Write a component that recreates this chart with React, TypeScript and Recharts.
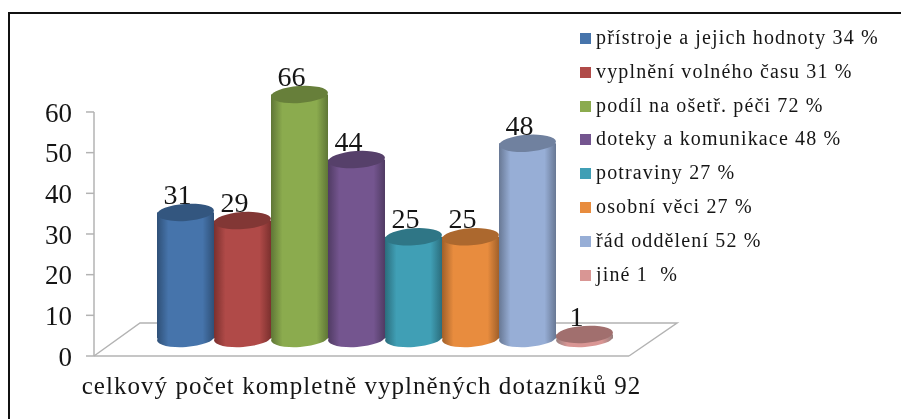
import React from 'react';
import { BarChart, Bar, XAxis, YAxis, Legend } from 'recharts';

const CATEGORY = ['celkový počet kompletně vyplněných dotazníků 92'];
const SERIES_NAMES = [
  'přístroje a jejich hodnoty 34 %',
  'vyplnění volného času 31 %',
  'podíl na ošetř. péči 72 %',
  'doteky a komunikace 48 %',
  'potraviny 27 %',
  'osobní věci 27 %',
  'řád oddělení 52 %',
  'jiné 1  %',
];
const SERIES_VALUES = [31, 29, 66, 44, 25, 25, 48, 1];
const SERIES_COLORS = ['#4674ab', '#b04a48', '#8bab4e', '#74558f', '#409fb5', '#e88c3e', '#97aed6', '#d99694'];
const TOP_COLORS = ['#33567f', '#823735', '#677f3a', '#56406a', '#2f7686', '#ac682e', '#70819f', '#a16f6e'];
const EDGE_COLORS = ['#2f5077', '#7b302e', '#5f7636', '#503b63', '#2b6d7c', '#a0602a', '#687894', '#977e7d'];
const Y_TICKS = [0, 10, 20, 30, 40, 50, 60];
const AXIS_MAX = 60;

const WIDTH = 901;
const HEIGHT = 419;
const PLOT_LEFT = 94;
const PLOT_RIGHT = 629;
const PLOT_BOTTOM = 356;
const UNIT = 4.067;
// scale runs past 60 so the 66 bar does not get clipped by the plot area
const DOMAIN_MAX = 80;
const PLOT_TOP = PLOT_BOTTOM - DOMAIN_MAX * UNIT;
const DEPTH_X = 46;
const DEPTH_Y = 33;
const GREY = '#b3b3b3';
const INK = '#151515';
const FONT = '"Liberation Serif", serif';

const row: Record<string, string | number> = { name: CATEGORY[0] };
SERIES_NAMES.forEach((name, i) => {
  row[name] = SERIES_VALUES[i];
});
const data = [row];

const Cylinder = (props: any) => {
  const { x, y, width, height } = props;
  const value = props.seriesIndex;
  const color = SERIES_COLORS[value];
  const top = TOP_COLORS[value];
  const edge = EDGE_COLORS[value];
  const amount = SERIES_VALUES[value];
  // bars above the axis maximum stop at the maximum, the label keeps the real value
  const drawn = Math.min(height, (height / amount) * AXIS_MAX);
  const bottom = y + height - DEPTH_Y / 2 - 1;
  const topY = bottom - drawn;
  const cx = x + width / 2 + DEPTH_X / 2;
  const rx = width / 2;
  const ry = 8.5;
  const left = cx - rx;
  const id = `cyl-${value}`;
  return (
    <g>
      <defs>
        <linearGradient id={id} x1="0" x2="1" y1="0" y2="0">
          <stop offset="0" stopColor={edge} />
          <stop offset="0.2" stopColor={color} />
          <stop offset="0.8" stopColor={color} />
          <stop offset="1" stopColor={edge} />
        </linearGradient>
      </defs>
      <ellipse cx={cx} cy={bottom} rx={rx} ry={ry} fill={`url(#${id})`} transform={`rotate(-4 ${cx} ${bottom})`} />
      {drawn > 0 && <rect x={left} y={topY} width={width} height={drawn} fill={`url(#${id})`} />}
      <ellipse cx={cx} cy={topY} rx={rx} ry={ry} fill={top} transform={`rotate(-4 ${cx} ${topY})`} />
      <text
        x={cx - 8}
        y={topY - 18}
        textAnchor="middle"
        dominantBaseline="central"
        fontFamily={FONT}
        fontSize={28}
        fill={INK}
      >
        {amount}
      </text>
    </g>
  );
};

const renderLegend = ({ payload }: any) => (
  <div style={{ fontFamily: FONT, fontSize: 20, color: INK, letterSpacing: 1.15 }}>
    {(payload || []).map((entry: any) => (
      <div key={entry.value} style={{ height: 33.8, lineHeight: '33.8px', whiteSpace: 'pre', position: 'relative', paddingLeft: 16 }}>
        <span
          style={{
            position: 'absolute',
            left: 0,
            top: 12,
            width: 11,
            height: 11,
            background: entry.color,
          }}
        />
        {entry.value}
      </div>
    ))}
  </div>
);

export default function App() {
  return (
    <div style={{ position: 'absolute', left: 0, top: 0, width: WIDTH, height: HEIGHT, background: '#fff', overflow: 'hidden' }}>
      <div
        style={{
          position: 'absolute',
          left: 8,
          top: 12,
          width: 900,
          height: 420,
          borderLeft: '2px solid #111',
          borderTop: '2px solid #111',
        }}
      />
      <BarChart
        width={WIDTH}
        height={HEIGHT}
        data={data}
        barSize={57}
        barGap={0}
        margin={{ top: PLOT_TOP, right: WIDTH - PLOT_RIGHT, bottom: 0, left: 0 }}
        style={{ position: 'absolute', left: 0, top: 0, filter: 'blur(0.5px)' }}
      >
        <polyline
          points={`${PLOT_LEFT},${PLOT_BOTTOM} ${PLOT_LEFT + DEPTH_X},${PLOT_BOTTOM - DEPTH_Y} ${PLOT_RIGHT + DEPTH_X + 2},${PLOT_BOTTOM - DEPTH_Y} ${PLOT_RIGHT},${PLOT_BOTTOM}`}
          fill="none"
          stroke={GREY}
          strokeWidth={1.5}
        />
        <line
          x1={PLOT_LEFT}
          x2={PLOT_LEFT}
          y1={PLOT_BOTTOM}
          y2={PLOT_BOTTOM - AXIS_MAX * UNIT}
          stroke={GREY}
          strokeWidth={1.5}
        />
        <XAxis
          dataKey="name"
          height={HEIGHT - PLOT_BOTTOM}
          tickLine={false}
          axisLine={{ stroke: GREY, strokeWidth: 1.5 }}
          tickMargin={14}
          interval={0}
          tick={{ fontFamily: FONT, fontSize: 25, fill: INK, letterSpacing: 1.05 }}
        />
        <YAxis
          width={PLOT_LEFT}
          domain={[0, DOMAIN_MAX]}
          ticks={Y_TICKS}
          axisLine={false}
          tickLine={{ stroke: GREY, strokeWidth: 1.5 }}
          tickSize={8}
          tickMargin={14}
          tick={{ fontFamily: FONT, fontSize: 27, fill: INK }}
        />
        {SERIES_NAMES.map((name, i) => (
          <Bar
            key={name}
            dataKey={name}
            name={name}
            fill={SERIES_COLORS[i]}
            isAnimationActive={false}
            shape={(p: any) => <Cylinder {...p} seriesIndex={i} />}
          />
        ))}
        <Legend
          layout="vertical"
          align="center"
          verticalAlign="middle"
          itemSorter={null}
          content={renderLegend}
          wrapperStyle={{ position: 'absolute', left: 580, top: 21, width: 315 }}
        />
      </BarChart>
    </div>
  );
}
